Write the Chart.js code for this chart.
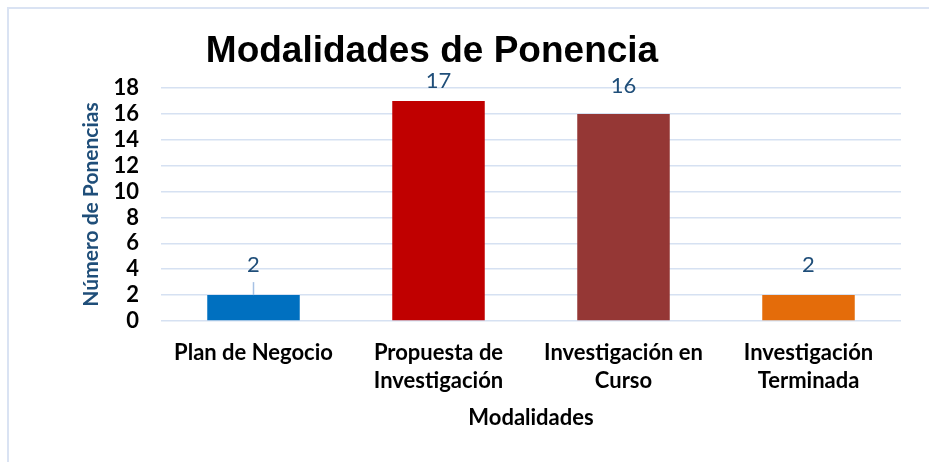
<!DOCTYPE html>
<html>
<head>
<meta charset="utf-8">
<script src="https://cdn.jsdelivr.net/npm/chart.js@4/dist/chart.umd.min.js"></script>
<style>
  html, body { margin: 0; padding: 0; background: #ffffff; overflow: hidden; }
  #wrap { position: relative; width: 929px; height: 462px; }
  #frame { position: absolute; left: 7px; top: 7px; width: 1000px; height: 1000px;
           border-left: 2px solid #dae3f3; border-top: 2px solid #dae3f3; pointer-events: none; box-sizing: border-box; }
  canvas { display: block; }
</style>
</head>
<body>
<div id="wrap">
  <canvas id="c" width="929" height="462"></canvas>
  <div id="frame"></div>
</div>
<script>
const chartTitle = 'Modalidades de Ponencia';
const categories = [
  'Plan de Negocio',
  ['Propuesta de', 'Investigación'],
  ['Investigación en', 'Curso'],
  ['Investigación', 'Terminada']
];
const ponencias = [2, 17, 16, 2];
const barColors = ['#0070C0', '#C00000', '#953735', '#E46C0A'];
const yTicks = [0, 2, 4, 6, 8, 10, 12, 14, 16, 18];
const yAxisTitle = 'Número de Ponencias';
const xAxisTitle = 'Modalidades';

// label placement (style): distance of label centre above bar top, leader line flags
const labelOffsets = [30, 20, 28, 30];
const leaderLines = [true, false, false, false];

const titlePlugin = {
  id: 'mainTitle',
  afterDraw(chart) {
    const ctx = chart.ctx;
    ctx.save();
    ctx.font = 'bold 37px "Liberation Sans", Arial, sans-serif';
    ctx.fillStyle = '#000000';
    ctx.textAlign = 'center';
    ctx.textBaseline = 'alphabetic';
    ctx.fillText(chartTitle, 432, 62);
    ctx.restore();
  }
};

const labelPlugin = {
  id: 'valueLabels',
  afterDatasetsDraw(chart) {
    const ctx = chart.ctx;
    const meta = chart.getDatasetMeta(0);
    ctx.save();
    meta.data.forEach((bar, i) => {
      const v = chart.data.datasets[0].data[i];
      const cy = bar.y - labelOffsets[i];
      if (leaderLines[i]) {
        ctx.strokeStyle = '#A6C1E4';
        ctx.lineWidth = 1.5;
        ctx.beginPath();
        ctx.moveTo(bar.x, cy + 17);
        ctx.lineTo(bar.x, bar.y);
        ctx.stroke();
      }
      ctx.font = '22px Lato, "Open Sans", sans-serif';
      ctx.fillStyle = '#1F4E79';
      ctx.textAlign = 'center';
      ctx.textBaseline = 'middle';
      ctx.fillText(String(v), bar.x, cy);
    });
    ctx.restore();
  }
};

new Chart(document.getElementById('c'), {
  type: 'bar',
  data: {
    labels: categories,
    datasets: [{
      data: ponencias,
      backgroundColor: barColors,
      borderWidth: 0,
      categoryPercentage: 1.0,
      barPercentage: 0.5
    }]
  },
  options: {
    responsive: false,
    animation: false,
    events: [],
    layout: { padding: { top: 88, left: 0, right: 28, bottom: 0 } },
    plugins: {
      legend: { display: false },
      tooltip: { enabled: false },
      title: { display: false }
    },
    scales: {
      x: {
        grid: { display: false, drawTicks: false },
        border: { display: false },
        ticks: {
          color: '#000000',
          font: { family: 'Lato', weight: 'bold', size: 22, lineHeight: 1.27 },
          padding: 18,
          maxRotation: 0,
          autoSkip: false
        },
        title: {
          display: true,
          text: xAxisTitle,
          color: '#000000',
          font: { family: 'Lato', weight: 'bold', size: 22, lineHeight: 1.2 },
          padding: { top: 0, bottom: 31 }
        },
        afterFit(scale) { scale.height = 141; }
      },
      y: {
        min: 0,
        max: 18,
        afterBuildTicks(scale) { scale.ticks = yTicks.map(v => ({ value: v })); },
        grid: { color: '#D6E1F2', lineWidth: 1.5, drawTicks: false },
        border: { display: false },
        ticks: {
          color: '#000000',
          font: { family: 'Lato', weight: 'bold', size: 22 },
          padding: 22,
          autoSkip: false
        },
        title: {
          display: true,
          text: yAxisTitle,
          color: '#1F4E79',
          font: { family: 'Lato', weight: 'bold', size: 21, lineHeight: 1.2 },
          padding: { top: 79, bottom: 0 }
        },
        afterFit(scale) { scale.width = 161; }
      }
    }
  },
  plugins: [titlePlugin, labelPlugin]
});
</script>
</body>
</html>
